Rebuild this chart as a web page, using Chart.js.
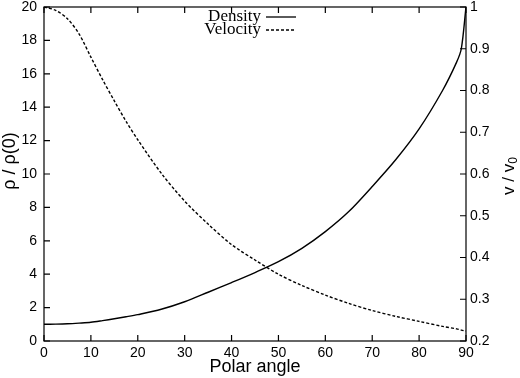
<!DOCTYPE html>
<html>
<head>
<meta charset="utf-8">
<script src="https://cdn.jsdelivr.net/npm/chart.js@4"></script>
<style>
  body { margin: 0; background: #fff; }
  #wrap { width: 520px; height: 378px; }
</style>
</head>
<body>
<div id="wrap"><canvas id="chart" width="520" height="378"></canvas></div>
<script>
// polar angle in degrees
const angles = [0, 2.5, 5, 7.5, 10, 12.5, 15, 17.5, 20, 25, 30, 35, 40, 45, 50, 55, 60, 65, 70, 75, 80, 85, 88, 89, 90];
// rho / rho(0), left axis
const density = [1.00, 1.01, 1.03, 1.07, 1.12, 1.22, 1.33, 1.45, 1.58, 1.90, 2.35, 2.92, 3.50, 4.10, 4.75, 5.55, 6.55, 7.75, 9.25, 10.85, 12.70, 15.00, 16.70, 17.50, 20.00];
// v / v0, right axis
const velocity = [1.000, 0.992, 0.972, 0.935, 0.880, 0.826, 0.775, 0.726, 0.682, 0.602, 0.535, 0.480, 0.431, 0.394, 0.360, 0.333, 0.310, 0.290, 0.273, 0.259, 0.247, 0.235, 0.229, 0.226, 0.224];
const seriesNames = ['Density', 'Velocity'];

const tickFont = { family: 'Liberation Sans', size: 14 };

function pts(ys) {
  return angles.map((a, i) => ({ x: a, y: ys[i] }));
}

// gnuplot style frame, inward ticks, legend and axis titles
const framePlugin = {
  id: 'frame',
  afterDraw(chart) {
    const c = chart.ctx;
    const a = chart.chartArea;
    const sx = chart.scales.x, sy = chart.scales.y, sy2 = chart.scales.y2;
    c.save();
    c.strokeStyle = '#000';
    c.lineWidth = 1.2;
    c.strokeRect(a.left, a.top, a.right - a.left, a.bottom - a.top);
    c.beginPath();
    sx.ticks.forEach(t => {
      const px = sx.getPixelForValue(t.value);
      c.moveTo(px, a.bottom); c.lineTo(px, a.bottom - 6);
      c.moveTo(px, a.top); c.lineTo(px, a.top + 6);
    });
    sy.ticks.forEach(t => {
      const py = sy.getPixelForValue(t.value);
      c.moveTo(a.left, py); c.lineTo(a.left + 6, py);
    });
    sy2.ticks.forEach(t => {
      const py = sy2.getPixelForValue(t.value);
      c.moveTo(a.right, py); c.lineTo(a.right - 6, py);
    });
    c.stroke();

    // legend
    c.font = '17px "Liberation Serif"';
    c.textAlign = 'right';
    c.textBaseline = 'middle';
    c.fillStyle = '#000';
    chart.data.datasets.forEach((ds, i) => {
      const y = 17 + i * 13;
      c.fillText(ds.label, 261, y);
      c.beginPath();
      c.lineWidth = 1.3;
      c.setLineDash(ds.borderDash || []);
      c.moveTo(266, y); c.lineTo(296, y);
      c.stroke();
      c.setLineDash([]);
    });

    // left axis title
    c.save();
    c.translate(10, 161);
    c.rotate(-Math.PI / 2);
    c.textAlign = 'center';
    c.font = '18px "Liberation Sans"';
    c.fillText('ρ / ρ(0)', 0, 0);
    c.restore();

    // right axis title, reading bottom to top
    c.translate(509, 176);
    c.rotate(-Math.PI / 2);
    c.textAlign = 'left';
    c.textBaseline = 'middle';
    c.font = '17px "Liberation Sans"';
    const main = 'v / v';
    const w1 = c.measureText(main).width;
    c.font = '12px "Liberation Sans"';
    const w2 = c.measureText('0').width;
    const x0 = -(w1 + w2) / 2;
    c.font = '17px "Liberation Sans"';
    c.fillText(main, x0, 0);
    c.font = '12px "Liberation Sans"';
    c.fillText('0', x0 + w1, 5);
    c.restore();
  }
};

function fitY(width) {
  return s => {
    s.width = width;
    s.paddingTop = 0;
    s.paddingBottom = 0;
  };
}

const chart = new Chart(document.getElementById('chart'), {
  type: 'line',
  data: {
    datasets: [{
      label: seriesNames[0],
      data: pts(density),
      yAxisID: 'y',
      borderColor: '#000',
      borderWidth: 1.4,
      pointRadius: 0,
      tension: 0.3,
      fill: false
    }, {
      label: seriesNames[1],
      data: pts(velocity),
      yAxisID: 'y2',
      borderColor: '#000',
      borderWidth: 1.4,
      borderDash: [3, 2],
      pointRadius: 0,
      tension: 0.3,
      fill: false
    }]
  },
  options: {
    responsive: false,
    animation: false,
    devicePixelRatio: 1,
    layout: { padding: { top: 7, left: 0, right: 0, bottom: 0 } },
    plugins: { legend: { display: false }, tooltip: { enabled: false } },
    scales: {
      x: {
        type: 'linear',
        min: 0, max: 90,
        ticks: { stepSize: 10, color: '#000', font: tickFont, padding: 4, maxRotation: 0 },
        grid: { display: false, drawTicks: false },
        border: { display: false },
        title: { display: true, text: 'Polar angle', color: '#000', font: { family: 'Liberation Sans', size: 18 }, padding: { top: -2, bottom: 0 } },
        afterFit(s) { s.height = 37; s.paddingLeft = 0; s.paddingRight = 0; }
      },
      y: {
        position: 'left',
        min: 0, max: 20,
        ticks: { stepSize: 2, color: '#000', font: tickFont, padding: 7 },
        grid: { display: false, drawTicks: false },
        border: { display: false },
        afterFit: fitY(44)
      },
      y2: {
        position: 'right',
        min: 0.2, max: 1,
        ticks: {
          stepSize: 0.1, color: '#000', font: tickFont, padding: 4,
          callback: v => String(Number(v.toFixed(1)))
        },
        grid: { display: false, drawTicks: false },
        border: { display: false },
        afterFit: fitY(54)
      }
    }
  },
  plugins: [framePlugin]
});
</script>
</body>
</html>
